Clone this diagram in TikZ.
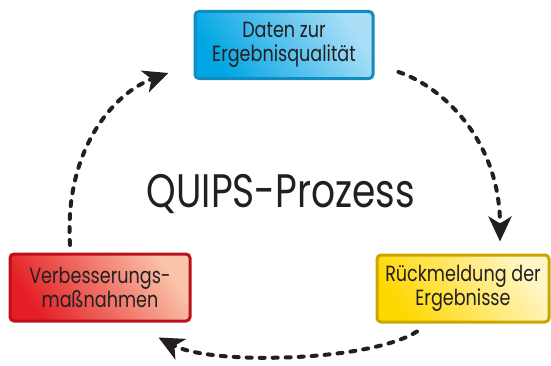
\documentclass[tikz,border=0pt]{standalone}
\usepackage{fontspec}
\setmainfont{Poppins}[FakeStretch=0.8]
\usetikzlibrary{arrows.meta}
\definecolor{bb}{RGB}{0, 165, 228}
\definecolor{bl}{RGB}{170, 222, 246}
\definecolor{bd}{RGB}{16, 140, 192}
\definecolor{rr}{RGB}{228, 30, 36}
\definecolor{rl}{RGB}{250, 196, 170}
\definecolor{rd}{RGB}{190, 16, 26}
\definecolor{yy}{RGB}{255, 215, 0}
\definecolor{yl}{RGB}{255, 246, 200}
\definecolor{yd}{RGB}{200, 168, 0}
\definecolor{tt}{RGB}{35, 31, 32}
\def\boxh{67pt}
\newcommand{\procnode}[8]{\node[minimum height=\boxh,minimum width=#4,draw=#5,line width=3pt,rounded corners=4pt,left color=#6,right color=#7,shading angle=125,text=tt,align=center,font=\fontsize{22}{24}\selectfont] (#3) at (#1,#2) {#8};}
\tikzset{flow/.style={line width=4pt,line cap=round,dash pattern=on 5pt off 8pt,color=tt,-{Stealth[length=25pt,width=23pt,inset=7pt,line cap=butt]}}}

\begin{document}
\begin{tikzpicture}[x=1pt,y=1pt]
\useasboundingbox (0,0) rectangle (551,365);
\procnode{284}{320}{daten}{178pt}{bd}{bb}{bl}{Daten zur\\Ergebnisqualität}
\procnode{463}{76.5}{rueck}{172pt}{yd}{yy}{yl}{Rückmeldung der\\Ergebnisse}
\procnode{100}{77.5}{verb}{180pt}{rd}{rr}{rl}{Verbesserungs-\\maßnahmen}
\node[anchor=base,text=tt,font=\fontsize{47}{56}\selectfont] (title) at (281,158) {QUIPS-Prozess};

\draw[flow] ([shift={(24,-27)}]daten.east) .. controls +(45,-15) and +(0,100) .. ([shift={(37,12)}]rueck.north);
\draw[flow] ([shift={(-46,-8)}]rueck.south) .. controls +(-47,-30) and +(53,-28) .. ([shift={(-33,-15)}]verb.south east);
\draw[flow] ([shift={(-30,7.5)}]verb.north) .. controls +(-6,95) and +(-55,-20) .. ([shift={(-25,-28)}]daten.west);
\end{tikzpicture}
\end{document}
